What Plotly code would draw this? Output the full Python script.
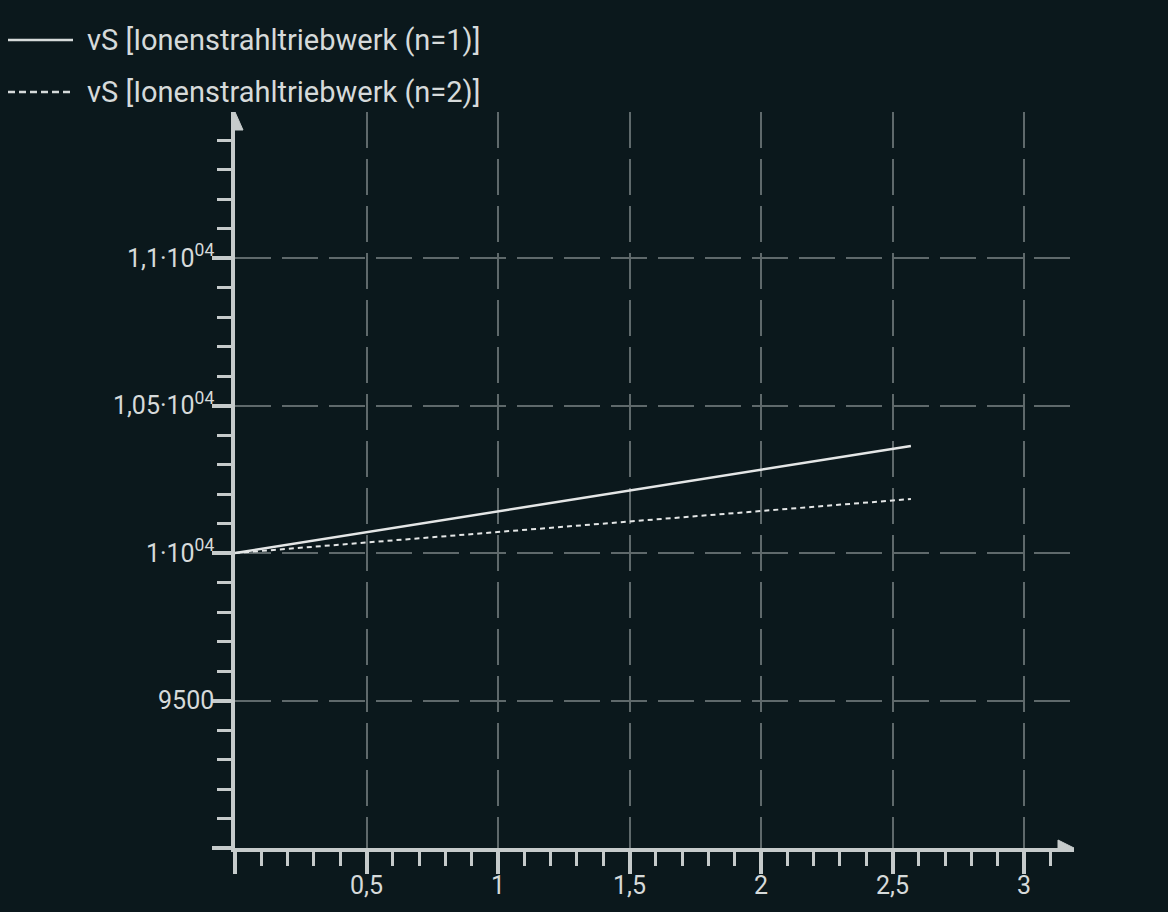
import plotly.graph_objects as go

# values
t_values = [0, 0.5, 1, 1.5, 2, 2.57]
vs_n1 = [10000, 10071, 10141, 10212, 10283, 10363]
vs_n2 = [10000, 10036, 10071, 10107, 10142, 10183]
series_names = ["vS [Ionenstrahltriebwerk (n=1)]", "vS [Ionenstrahltriebwerk (n=2)]"]

x_tickvals = [0, 0.5, 1, 1.5, 2, 2.5, 3]
x_ticktext = ["", "0,5", "1", "1,5", "2", "2,5", "3"]
y_tickvals = [9000, 9500, 10000, 10500, 11000]
y_ticktext = ["", "9500", "1·10<sup>04</sup>", "1,05·10<sup>04</sup>", "1,1·10<sup>04</sup>"]

X_MAX = 3.19
Y_MIN, Y_MAX = 9000, 11495

BG = "#0b181c"
FG = "#d6dada"
AXIS = "#c6cbcb"
GRID = "#5f696b"

W, H = 1168, 912
L, R, T, B = 235, 94, 112, 64
PW, PH = W - L - R, H - T - B


def px2paper(px, py):
    return (px - L) / PW, (H - B - py) / PH


fig = go.Figure()
fig.add_trace(go.Scatter(x=t_values, y=vs_n1, mode="lines", name=series_names[0],
                         line=dict(color="#e4e6e6", width=2.5)))
fig.add_trace(go.Scatter(x=t_values, y=vs_n2, mode="lines", name=series_names[1],
                         line=dict(color="#e4e6e6", width=2, dash="5px,4px")))

# hand drawn legend (longer sample lines than plotly's own)
legend_rows = [(40, "solid"), (92, "7px,4px")]
for (py, dash), name in zip(legend_rows, series_names):
    x0, y0 = px2paper(8, py)
    x1, _ = px2paper(73, py)
    fig.add_shape(type="line", xref="paper", yref="paper", x0=x0, x1=x1, y0=y0, y1=y0,
                  line=dict(color=FG, width=2.5, dash=dash))
    tx, _ = px2paper(85, py)
    fig.add_annotation(xref="paper", yref="paper", x=tx, y=y0, text=name, showarrow=False,
                       xanchor="left", yanchor="middle", font=dict(size=29, color=FG))

# arrow heads at the ends of the axes
fig.add_shape(type="path", xref="x", yref="y", xsizemode="pixel", ysizemode="pixel",
              xanchor=0, yanchor=Y_MAX, path="M -8,-18 L 0,0 L 8,-18 Z",
              fillcolor=AXIS, line=dict(color=AXIS, width=1))
fig.add_shape(type="path", xref="x", yref="y", xsizemode="pixel", ysizemode="pixel",
              xanchor=X_MAX, yanchor=Y_MIN, path="M -16,-8 L 0,0 L -16,8 Z",
              fillcolor=AXIS, line=dict(color=AXIS, width=1))

fig.update_layout(
    width=W, height=H,
    margin=dict(l=L, r=R, t=T, b=B),
    paper_bgcolor=BG, plot_bgcolor=BG,
    font=dict(family="Roboto", size=25, color=FG),
    showlegend=False,
    xaxis=dict(
        range=[0, X_MAX], tickmode="array", tickvals=x_tickvals, ticktext=x_ticktext,
        showline=True, linecolor=AXIS, linewidth=3.5, automargin=False,
        ticks="outside", ticklen=22, tickwidth=3.5, tickcolor=AXIS,
        showgrid=True, gridcolor=GRID, gridwidth=2, griddash="36px,11px",
        zeroline=False, ticklabelstandoff=-10,
        minor=dict(tickmode="linear", tick0=0, dtick=0.1, ticks="outside",
                   ticklen=14, tickwidth=2.5, tickcolor=AXIS, showgrid=False),
        tickfont=dict(size=25, color=FG),
    ),
    yaxis=dict(
        range=[Y_MIN, Y_MAX], tickmode="array", tickvals=y_tickvals, ticktext=y_ticktext,
        showline=True, linecolor=AXIS, linewidth=3.5, automargin=False,
        ticks="outside", ticklen=19, tickwidth=3.5, tickcolor=AXIS,
        showgrid=True, gridcolor=GRID, gridwidth=2, griddash="36px,11px",
        zeroline=False, ticklabelstandoff=-7,
        minor=dict(tickmode="linear", tick0=9000, dtick=100, ticks="outside",
                   ticklen=14, tickwidth=2.5, tickcolor=AXIS, showgrid=False),
        tickfont=dict(size=25, color=FG),
    ),
)

page_fix = (
    "document.body.style.margin='0';"
    "document.body.style.overflow='hidden';"
    "document.documentElement.style.overflow='hidden';"
    "document.body.style.background='%s';" % BG
)
fig.write_html("out.html", config={"displayModeBar": False},
               default_width="%dpx" % W, default_height="%dpx" % H,
               post_script=page_fix)
